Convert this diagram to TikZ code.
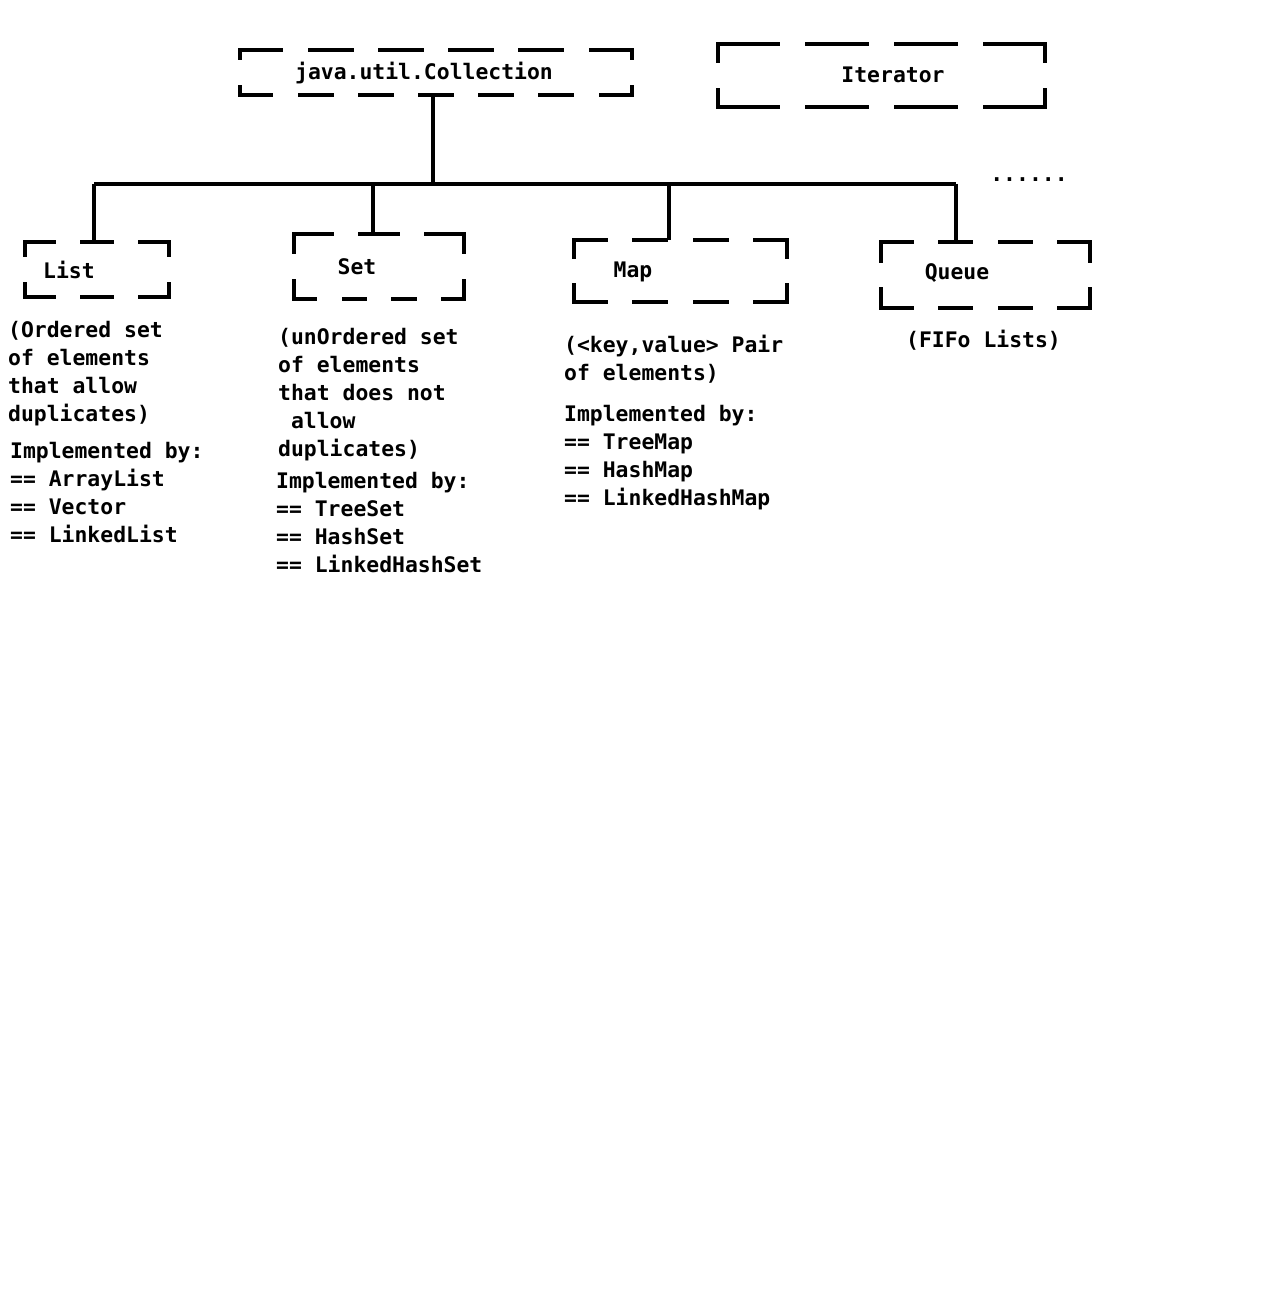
\documentclass[tikz,border=0pt]{standalone}
\usepackage{fontspec}
\setmonofont{DejaVu Sans Mono}
\newcommand\mydashbox[5]{%
  \draw[bordr, dash pattern=on #2pt off 29pt] (#1.north west) -- (#1.north east);
  \draw[bordr, dash pattern=on #3pt off 29pt] (#1.south west) -- (#1.south east);
  \draw[bordr, dash pattern=on #4pt off #5pt] (#1.north west) -- (#1.south west);
  \draw[bordr, dash pattern=on #4pt off #5pt] (#1.north east) -- (#1.south east);}
\newcommand\msp{\hphantom{x}}
\begin{document}
\begin{tikzpicture}[x=1pt,y=-1pt,
  boxn/.style={inner sep=0pt, outer sep=0pt},
  bordr/.style={line width=4.5pt, line cap=rect},
  conn/.style={line width=4.5pt},
  lbl/.style={inner sep=0pt, font=\ttfamily\bfseries\fontsize{21.4}{28}\selectfont},
  blk/.style={lbl, anchor=base west, text width=320pt, align=left}]
\useasboundingbox[fill=white] (0,0) rectangle (1283,1316);

% boxes
\node[boxn, minimum width=392pt, minimum height=45pt] (coll) at (436,72.5) {};
\node[boxn, minimum width=327pt, minimum height=63pt] (iter) at (881.5,75.5) {};
\node[boxn, minimum width=144pt, minimum height=55pt] (listb) at (97,269.5) {};
\node[boxn, minimum width=170pt, minimum height=65pt] (setb) at (379,266.5) {};
\node[boxn, minimum width=213pt, minimum height=62pt] (mapb) at (680.5,271) {};
\node[boxn, minimum width=209pt, minimum height=66pt] (queueb) at (985.5,275) {};

\mydashbox{coll}{41.17}{31.14}{8}{29}
\mydashbox{iter}{60}{60}{17}{29}
\mydashbox{listb}{28.67}{28.67}{13}{29}
\mydashbox{setb}{37.33}{20.75}{18}{29}
\mydashbox{mapb}{31.5}{31.5}{16.5}{29}
\mydashbox{queueb}{30.5}{30.5}{18.5}{29}

% labels
\node[lbl, anchor=base] (colll) at (424,80) {java.util.Collection};
\node[lbl, anchor=base] (iterl) at (893,83) {Iterator};
\node[lbl, anchor=base] (listl) at (69,278) {List};
\node[lbl, anchor=base] (setl) at (357,274) {Set};
\node[lbl, anchor=base] (mapl) at (633,277) {Map};
\node[lbl, anchor=base] (queuel) at (957,279) {Queue};
\node[lbl, anchor=base] (more) at (1029,182) {......};

% connectors
\coordinate (busL) at (94,184);
\coordinate (busR) at (956,184);
\coordinate (j0) at (433,184);
\coordinate (j1) at (373,184);
\coordinate (j2) at (669,184);
\draw[conn] (busL) -- (busR);
\draw[conn] (coll.south -| j0) -- (j0);
\draw[conn] (busL) -- (listb.north -| busL);
\draw[conn] (j1) -- (setb.north -| j1);
\draw[conn] (j2) -- (mapb.north -| j2);
\draw[conn] (busR) -- (queueb.north -| busR);

% descriptions
\node[blk] (listd) at (8,337) {(Ordered\msp set\\of\msp elements\\that\msp allow\\duplicates)};
\node[blk] (listi) at (10,458) {Implemented\msp by:\\==\msp ArrayList\\==\msp Vector\\==\msp LinkedList};
\node[blk] (setd) at (278,344) {(unOrdered\msp set\\of\msp elements\\that\msp does\msp not\\\msp allow\\duplicates)};
\node[blk] (seti) at (276,488) {Implemented\msp by:\\==\msp TreeSet\\==\msp HashSet\\==\msp LinkedHashSet};
\node[blk] (mapd) at (564,352) {(<key,value>\msp Pair\\of\msp elements)};
\node[blk] (mapi) at (564,421) {Implemented\msp by:\\==\msp TreeMap\\==\msp HashMap\\==\msp LinkedHashMap};
\node[blk] (queued) at (906,347) {(FIFo\msp Lists)};
\end{tikzpicture}
\end{document}
